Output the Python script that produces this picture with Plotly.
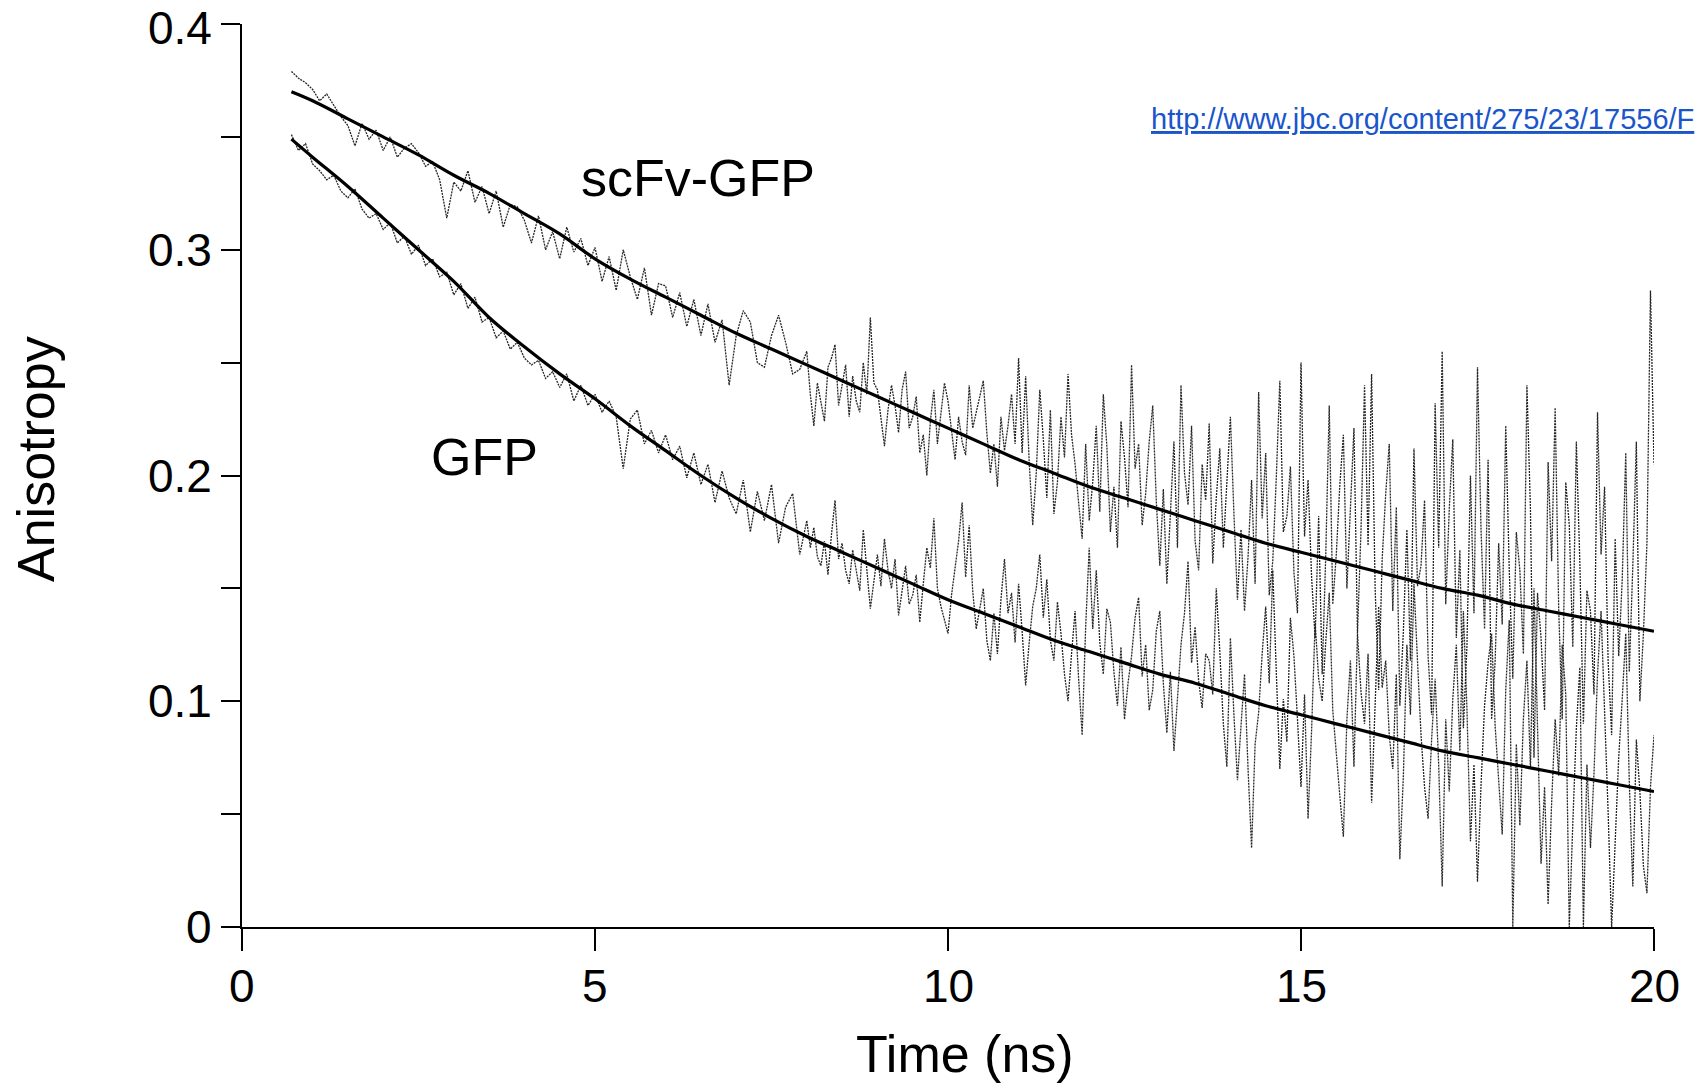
import numpy as np
import plotly.graph_objects as go

# ---------------- data ----------------
# time grid of the measured traces (ns): 0.7..7.9 every 0.1 ns, 8.0..20.0 every 0.05 ns
t_data = np.concatenate([np.arange(7, 80) / 10.0, np.arange(160, 401) / 20.0])

scfv_data = [
    # 0.7 - 7.9
    0.379, 0.376, 0.374,
    0.371, 0.366, 0.369, 0.364, 0.359, 0.355, 0.346, 0.356, 0.349, 0.353,
    0.344, 0.350, 0.341, 0.345, 0.347, 0.343, 0.337, 0.339, 0.331, 0.314,
    0.330, 0.326, 0.335, 0.321, 0.328, 0.316, 0.326, 0.310, 0.320, 0.319,
    0.313, 0.303, 0.315, 0.300, 0.308, 0.296, 0.310, 0.299, 0.305, 0.293,
    0.301, 0.286, 0.297, 0.282, 0.300, 0.288, 0.278, 0.292, 0.271, 0.285,
    0.284, 0.270, 0.281, 0.266, 0.278, 0.262, 0.276, 0.259, 0.269, 0.240,
    0.262, 0.273, 0.268, 0.250, 0.248, 0.262, 0.271, 0.259, 0.245, 0.247,
    # 8.0 - 20.0
    0.255,
    0.236, 0.222, 0.241, 0.232, 0.224, 0.248, 0.252, 0.258, 0.231, 0.240,
    0.249, 0.226, 0.244, 0.233, 0.228, 0.250, 0.236, 0.270, 0.241, 0.238,
    0.225, 0.213, 0.229, 0.240, 0.231, 0.219, 0.238, 0.246, 0.221, 0.226,
    0.235, 0.210, 0.218, 0.200, 0.224, 0.238, 0.214, 0.227, 0.241, 0.233,
    0.219, 0.207, 0.226, 0.215, 0.209, 0.240, 0.221, 0.228, 0.236, 0.242,
    0.219, 0.201, 0.214, 0.195, 0.226, 0.211, 0.222, 0.236, 0.214, 0.252,
    0.210, 0.244, 0.206, 0.178, 0.201, 0.238, 0.216, 0.190, 0.229, 0.183,
    0.197, 0.226, 0.208, 0.245, 0.218, 0.205, 0.188, 0.172, 0.214, 0.180,
    0.197, 0.222, 0.184, 0.236, 0.213, 0.175, 0.195, 0.168, 0.224, 0.208,
    0.186, 0.249, 0.203, 0.214, 0.178, 0.192, 0.215, 0.231, 0.189, 0.160,
    0.194, 0.152, 0.183, 0.215, 0.168, 0.240, 0.201, 0.187, 0.222, 0.171,
    0.158, 0.205, 0.189, 0.223, 0.161, 0.190, 0.212, 0.168, 0.197, 0.226,
    0.183, 0.145, 0.176, 0.140, 0.164, 0.198, 0.152, 0.237, 0.181, 0.210,
    0.147, 0.162, 0.199, 0.242, 0.175, 0.182, 0.204, 0.157, 0.139, 0.250,
    0.173, 0.198, 0.155, 0.128, 0.182, 0.112, 0.164, 0.231, 0.143, 0.165,
    0.196, 0.218, 0.150, 0.187, 0.221, 0.130, 0.176, 0.240, 0.169, 0.245,
    0.150, 0.105, 0.163, 0.192, 0.214, 0.140, 0.186, 0.098, 0.131, 0.176,
    0.118, 0.212, 0.151, 0.160, 0.189, 0.120, 0.094, 0.232, 0.168, 0.255,
    0.143, 0.185, 0.216, 0.128, 0.167, 0.088, 0.124, 0.200, 0.139, 0.248,
    0.176, 0.132, 0.207, 0.092, 0.118, 0.170, 0.134, 0.222, 0.158, 0.110,
    0.175, 0.158, 0.121, 0.240, 0.185, 0.075, 0.148, 0.128, 0.096, 0.206,
    0.162, 0.230, 0.141, 0.092, 0.197, 0.178, 0.124, 0.215, 0.161, 0.090,
    0.149, 0.140, 0.103, 0.228, 0.165, 0.195, 0.118, 0.085, 0.172, 0.120,
    0.154, 0.210, 0.113, 0.160, 0.215, 0.100, 0.130, 0.170, 0.282, 0.205,
]

gfp_data = [
    # 0.7 - 7.9
    0.351, 0.344, 0.347,
    0.338, 0.335, 0.331, 0.333, 0.326, 0.323, 0.327, 0.318, 0.314, 0.316,
    0.309, 0.312, 0.303, 0.306, 0.298, 0.302, 0.293, 0.296, 0.288, 0.290,
    0.280, 0.285, 0.274, 0.279, 0.268, 0.270, 0.261, 0.264, 0.256, 0.259,
    0.252, 0.249, 0.251, 0.243, 0.246, 0.239, 0.245, 0.233, 0.240, 0.231,
    0.236, 0.228, 0.233, 0.226, 0.203, 0.225, 0.229, 0.214, 0.220, 0.210,
    0.218, 0.207, 0.213, 0.199, 0.210, 0.196, 0.205, 0.188, 0.202, 0.190,
    0.183, 0.198, 0.175, 0.193, 0.180, 0.196, 0.170, 0.186, 0.192, 0.165,
    # 8.0 - 20.0
    0.180,
    0.168, 0.177, 0.164, 0.160, 0.171, 0.156, 0.174, 0.189, 0.163, 0.170,
    0.158, 0.152, 0.167, 0.158, 0.149, 0.176, 0.160, 0.141, 0.153, 0.165,
    0.151, 0.172, 0.158, 0.150, 0.163, 0.138, 0.149, 0.160, 0.143, 0.147,
    0.156, 0.135, 0.152, 0.168, 0.159, 0.181, 0.150, 0.142, 0.136, 0.130,
    0.147, 0.160, 0.171, 0.188, 0.155, 0.178, 0.149, 0.132, 0.141, 0.150,
    0.127, 0.118, 0.139, 0.121, 0.145, 0.163, 0.139, 0.148, 0.126, 0.152,
    0.131, 0.107, 0.126, 0.142, 0.150, 0.165, 0.137, 0.154, 0.127, 0.118,
    0.144, 0.130, 0.112, 0.100, 0.121, 0.140, 0.110, 0.085, 0.133, 0.168,
    0.132, 0.158, 0.126, 0.112, 0.141, 0.135, 0.113, 0.098, 0.124, 0.092,
    0.108, 0.120, 0.137, 0.146, 0.111, 0.125, 0.096, 0.105, 0.131, 0.140,
    0.108, 0.086, 0.113, 0.078, 0.101, 0.125, 0.139, 0.162, 0.117, 0.133,
    0.109, 0.097, 0.121, 0.118, 0.103, 0.150, 0.122, 0.090, 0.071, 0.128,
    0.094, 0.065, 0.089, 0.112, 0.070, 0.035, 0.081, 0.095, 0.121, 0.142,
    0.108, 0.158, 0.113, 0.070, 0.101, 0.082, 0.137, 0.120, 0.092, 0.062,
    0.103, 0.048, 0.087, 0.135, 0.110, 0.100, 0.126, 0.148, 0.096, 0.075,
    0.058, 0.040, 0.092, 0.118, 0.071, 0.130, 0.104, 0.090, 0.121, 0.055,
    0.098, 0.142, 0.106, 0.118, 0.085, 0.070, 0.112, 0.030, 0.067, 0.125,
    0.094, 0.152, 0.118, 0.085, 0.062, 0.048, 0.083, 0.110, 0.072, 0.018,
    0.092, 0.060, 0.101, 0.125, 0.078, 0.140, 0.097, 0.038, 0.072, 0.020,
    0.063, 0.098, 0.117, 0.130, 0.089, 0.065, 0.041, 0.105, 0.136, 0.000,
    0.081, 0.045, 0.092, 0.118, 0.070, 0.150, 0.094, 0.028, 0.062, 0.010,
    0.055, 0.092, 0.067, 0.125, 0.103, 0.000, 0.046, 0.088, 0.115, 0.000,
    0.072, 0.035, 0.068, 0.112, 0.140, 0.098, 0.051, 0.000, 0.038, 0.075,
    0.101, 0.130, 0.064, 0.018, 0.083, 0.060, 0.027, 0.015, 0.062, 0.085,
]

# fitted decays (ns)
t_fit = [0.7, 1.0, 1.5, 2.0, 2.5, 3.0, 3.5, 4.0, 4.5, 5.0, 5.5, 6.0, 6.5, 7.0,
         7.5, 8.0, 8.5, 9.0, 9.5, 10.0, 10.5, 11.0, 11.5, 12.0, 12.5, 13.0,
         13.5, 14.0, 14.5, 15.0, 15.5, 16.0, 16.5, 17.0, 17.5, 18.0, 18.5,
         19.0, 19.5, 20.0]
scfv_fit = [0.370, 0.366, 0.358, 0.350, 0.342, 0.333, 0.325, 0.316, 0.307,
            0.296, 0.287, 0.279, 0.271, 0.263, 0.256, 0.249, 0.242, 0.235,
            0.228, 0.221, 0.214, 0.207, 0.201, 0.195, 0.190, 0.185, 0.180,
            0.175, 0.170, 0.166, 0.162, 0.158, 0.154, 0.150, 0.147, 0.143,
            0.140, 0.137, 0.134, 0.131]
gfp_fit = [0.349, 0.341, 0.328, 0.314, 0.300, 0.286, 0.270, 0.257, 0.245,
           0.234, 0.222, 0.211, 0.200, 0.190, 0.181, 0.173, 0.166, 0.159,
           0.152, 0.145, 0.139, 0.133, 0.127, 0.122, 0.117, 0.112, 0.108,
           0.103, 0.098, 0.094, 0.090, 0.086, 0.082, 0.078, 0.075, 0.072,
           0.069, 0.066, 0.063, 0.060]

y_tickvals = [0, 0.05, 0.1, 0.15, 0.2, 0.25, 0.3, 0.35, 0.4]
y_ticktext = ["0", "", "0.1", "", "0.2", "", "0.3", "", "0.4"]
x_tickvals = [0, 5, 10, 15, 20]
x_ticktext = ["0", "5", "10", "15", "20"]

FONT = "Liberation Sans, Arial, Helvetica, sans-serif"

# ---------------- geometry ----------------
W, H = 1695, 1083
L, R, T, B = 242, 41, 24, 156
pw, ph = W - L - R, H - T - B


def px_to_paper_x(px):
    return (px - L) / pw


def px_to_paper_y(py):
    return 1 - (py - T) / ph


# ---------------- figure ----------------
fig = go.Figure()
data_line = dict(color="#262626", width=1.3, dash="2px,1px")
fig.add_trace(go.Scatter(x=t_data, y=scfv_data, mode="lines", line=data_line,
                         name="scFv-GFP data", showlegend=False))
fig.add_trace(go.Scatter(x=t_data, y=gfp_data, mode="lines", line=data_line,
                         name="GFP data", showlegend=False))
fig.add_trace(go.Scatter(x=t_fit, y=scfv_fit, mode="lines",
                         line=dict(color="black", width=3.2, shape="spline"),
                         name="scFv-GFP fit", showlegend=False))
fig.add_trace(go.Scatter(x=t_fit, y=gfp_fit, mode="lines",
                         line=dict(color="black", width=3.2, shape="spline"),
                         name="GFP fit", showlegend=False))

axis_common = dict(showline=True, linecolor="black", linewidth=2,
                   ticks="outside", tickcolor="black", tickwidth=2,
                   showgrid=False, zeroline=False, mirror=False,
                   automargin=False, showticklabels=False)

fig.update_xaxes(range=[0, 20], tickmode="array", tickvals=x_tickvals,
                 ticktext=x_ticktext, ticklen=22, **axis_common)
fig.update_yaxes(range=[0, 0.4], tickmode="array", tickvals=y_tickvals,
                 ticktext=y_ticktext, ticklen=19, **axis_common)

annotations = [
    dict(text="scFv-GFP", x=6.46, y=0.332, xref="x", yref="y",
         showarrow=False, font=dict(family=FONT, size=52, color="black")),
    dict(text="GFP", x=3.44, y=0.2083, xref="x", yref="y",
         showarrow=False, font=dict(family=FONT, size=52, color="black")),
    dict(text="Time (ns)", x=px_to_paper_x(965), y=px_to_paper_y(1054),
         xref="paper", yref="paper", xanchor="center", yanchor="middle",
         showarrow=False, font=dict(family=FONT, size=52, color="black")),
    dict(text="Anisotropy", x=px_to_paper_x(36), y=px_to_paper_y(459),
         xref="paper", yref="paper", xanchor="center", yanchor="middle",
         textangle=-90, showarrow=False,
         font=dict(family=FONT, size=52, color="black")),
    dict(text='<span style="text-decoration:underline">http://www.jbc.org/content/275/23/17556/F</span>',
         x=px_to_paper_x(1149), y=px_to_paper_y(119), xref="paper",
         yref="paper", xanchor="left", yanchor="middle", showarrow=False,
         font=dict(family=FONT, size=29, color="#1a55cc")),
]
# x tick labels
for v, txt in zip(x_tickvals, x_ticktext):
    annotations.append(dict(text=txt, x=v, y=px_to_paper_y(986), xref="x",
                            yref="paper", xanchor="center", yanchor="middle",
                            showarrow=False,
                            font=dict(family=FONT, size=46, color="black")))
# y tick labels (top one nudged down so it stays inside the page)
for v, txt in zip(y_tickvals, y_ticktext):
    if not txt:
        continue
    annotations.append(dict(text=txt, x=px_to_paper_x(214), y=v, xref="paper",
                            yref="y", xanchor="right", yanchor="middle",
                            yshift=-4 if v == max(y_tickvals) else 0,
                            showarrow=False,
                            font=dict(family=FONT, size=46, color="black")))

fig.update_layout(
    width=W, height=H,
    margin=dict(l=L, r=R, t=T, b=B, pad=0, autoexpand=False),
    paper_bgcolor="white", plot_bgcolor="white",
    annotations=annotations,
    showlegend=False,
)

fig.write_html("out.html",
               config={"displayModeBar": False},
               post_script="document.body.style.margin='0px';")
